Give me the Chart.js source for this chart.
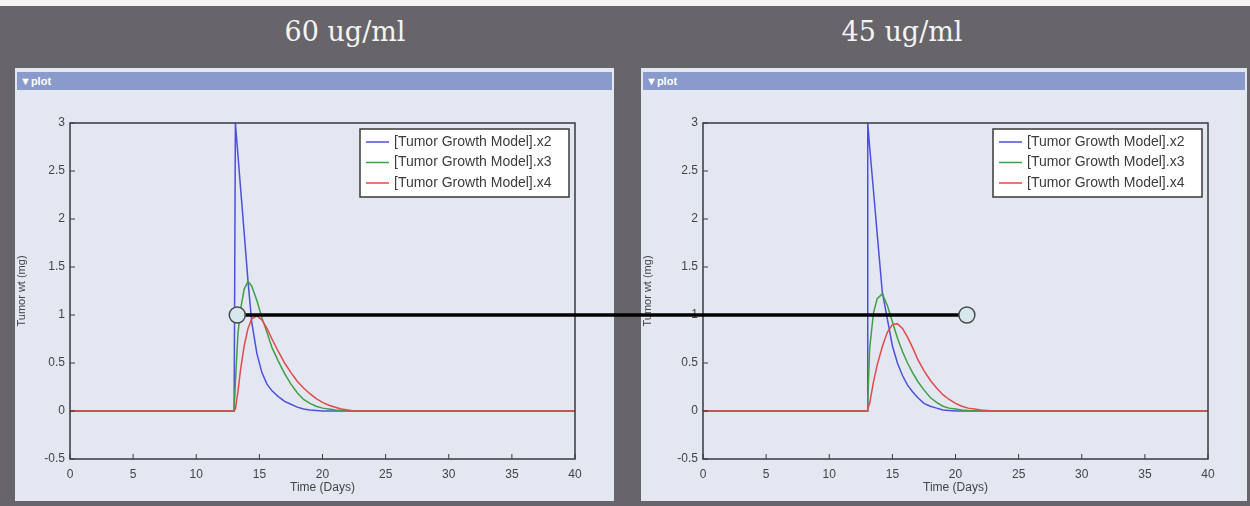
<!DOCTYPE html>
<html>
<head>
<meta charset="utf-8">
<script src="https://cdn.jsdelivr.net/npm/chart.js@4.4.0/dist/chart.umd.min.js"></script>
<style>
  html, body { margin: 0; padding: 0; }
  body { width: 1250px; height: 506px; background: #67646a; position: relative; overflow: hidden; font-family: "Liberation Sans", Arial, sans-serif; }
  .strip { position: absolute; left: 0; top: 0; width: 1250px; height: 6px; background: #f3f3f3; }
  .title { position: absolute; top: 16px; width: 400px; text-align: center; font-family: "DejaVu Serif", serif; font-size: 27px; color: #f4f4f4; }
  .panel { position: absolute; top: 68px; height: 433px; background: #e3e7f2; }
  .bar { position: absolute; top: 4px; left: 2px; right: 2px; height: 18px; background: #8a9acb; color: #fff; font-weight: bold; font-size: 11px; line-height: 18px; padding-left: 3px; }
  .box { position: absolute; left: 0; top: 27px; }
  #link { position: absolute; left: 0; top: 0; pointer-events: none; }
</style>
</head>
<body>
<div class="strip"></div>
<div class="title" style="left:145px">60 ug/ml</div>
<div class="title" style="left:702px">45 ug/ml</div>

<div class="panel" style="left:15px; width:599px">
  <div class="bar">&#9660;plot</div>
  <div class="box" style="width:599px; height:405px"><canvas id="left"></canvas></div>
</div>
<div class="panel" style="left:641px; width:606px">
  <div class="bar">&#9660;plot</div>
  <div class="box" style="width:606px; height:405px"><canvas id="right"></canvas></div>
</div>
<canvas id="link" width="1250" height="506"></canvas>

<script>
// DATA
const seriesNames = ['[Tumor Growth Model].x2', '[Tumor Growth Model].x3', '[Tumor Growth Model].x4'];
const seriesColors = ['#4f4fdc', '#3f9f45', '#e5484a'];

// 60 ug/ml
const timesLeft = [0, 13.0, 13.1, 13.3, 13.5, 13.8, 14.1, 14.4, 14.8, 15.2, 15.6, 16.0, 16.5, 17.0, 17.5, 18.0, 18.5, 19.0, 19.5, 20.0, 20.5, 21.0, 21.5, 22.0, 22.5, 40];
const x2Left = [0, 0, 3.0, 2.67, 2.34, 1.85, 1.35, 0.92, 0.6, 0.4, 0.28, 0.21, 0.15, 0.1, 0.07, 0.04, 0.02, 0.01, 0.005, 0, 0, 0, 0, 0, 0, 0];
const x3Left = [0, 0, 0.3, 0.8, 1.05, 1.27, 1.35, 1.3, 1.15, 0.97, 0.82, 0.66, 0.52, 0.39, 0.28, 0.19, 0.12, 0.08, 0.05, 0.03, 0.02, 0.01, 0.005, 0, 0, 0];
const x4Left = [0, 0, 0.02, 0.2, 0.42, 0.68, 0.86, 0.96, 0.99, 0.95, 0.86, 0.75, 0.62, 0.5, 0.4, 0.31, 0.24, 0.18, 0.13, 0.09, 0.06, 0.04, 0.02, 0.01, 0, 0];

// 45 ug/ml
const timesRight = [0, 13.0, 13.05, 13.2, 13.5, 13.8, 14.2, 14.6, 15.0, 15.4, 15.8, 16.2, 16.6, 17.0, 17.5, 18.0, 18.5, 19.0, 19.5, 20.0, 20.5, 21.0, 21.5, 22.0, 22.5, 23.0, 40];
const x2Right = [0, 0, 3.0, 2.75, 2.3, 1.84, 1.24, 0.96, 0.68, 0.5, 0.37, 0.27, 0.2, 0.14, 0.08, 0.05, 0.03, 0.01, 0.005, 0, 0, 0, 0, 0, 0, 0, 0];
const x3Right = [0, 0, 0.1, 0.65, 1.02, 1.17, 1.22, 1.1, 0.93, 0.76, 0.62, 0.5, 0.4, 0.31, 0.22, 0.14, 0.09, 0.05, 0.03, 0.02, 0.01, 0.005, 0, 0, 0, 0, 0];
const x4Right = [0, 0, 0, 0.08, 0.3, 0.48, 0.67, 0.82, 0.9, 0.91, 0.86, 0.77, 0.66, 0.54, 0.42, 0.32, 0.24, 0.17, 0.12, 0.08, 0.05, 0.03, 0.02, 0.01, 0.005, 0, 0];

// axes
const xMin = 0, xMax = 40, xStep = 5;
const yMin = -0.5, yMax = 3, yStep = 0.5;

// connector between the two plots (day on left plot, day on right plot, level)
const linkFromDay = 13.25;
const linkToDay = 20.9;
const linkLevel = 1;

function pts(t, v) {
    return t.map((x, i) => ({ x: x, y: v[i] }));
}

// box around the plot area + inward tick marks
const framePlugin = {
    id: 'frame',
    afterDraw(chart) {
        const ctx = chart.ctx, a = chart.chartArea;
        ctx.save();
        ctx.strokeStyle = '#3a3a3a';
        ctx.lineWidth = 1.5;
        ctx.strokeRect(a.left, a.top, a.right - a.left, a.bottom - a.top);
        ctx.lineWidth = 1;
        chart.scales.x.ticks.forEach(t => {
            const px = chart.scales.x.getPixelForValue(t.value);
            ctx.beginPath(); ctx.moveTo(px, a.bottom); ctx.lineTo(px, a.bottom - 5); ctx.stroke();
        });
        chart.scales.y.ticks.forEach(t => {
            const py = chart.scales.y.getPixelForValue(t.value);
            ctx.beginPath(); ctx.moveTo(a.left, py); ctx.lineTo(a.left + 5, py); ctx.stroke();
        });
        ctx.restore();
    }
};

// legend box in the top-right corner of the plot area
const legendBoxPlugin = {
    id: 'legendBox',
    afterDraw(chart) {
        const ctx = chart.ctx, a = chart.chartArea;
        const w = 209, h = 68;
        const x = a.right - 6 - w, y = a.top + 6;
        ctx.save();
        ctx.fillStyle = '#fff';
        ctx.fillRect(x, y, w, h);
        ctx.strokeStyle = '#3a3a3a';
        ctx.lineWidth = 1.5;
        ctx.strokeRect(x, y, w, h);
        ctx.font = '14px "Liberation Sans", Arial, sans-serif';
        ctx.textBaseline = 'middle';
        chart.data.datasets.forEach((ds, i) => {
            const ry = y + 13 + i * 20.5;
            ctx.strokeStyle = ds.borderColor;
            ctx.lineWidth = 1.5;
            ctx.beginPath(); ctx.moveTo(x + 6, ry); ctx.lineTo(x + 29, ry); ctx.stroke();
            ctx.fillStyle = '#3c3c3c';
            ctx.fillText(ds.label, x + 34, ry);
        });
        ctx.restore();
    }
};

function makeChart(id, times, s2, s3, s4, yWidth, rightPad) {
    const series = [s2, s3, s4];
    return new Chart(document.getElementById(id), {
        type: 'line',
        data: {
            datasets: series.map((s, i) => ({
                label: seriesNames[i],
                data: pts(times, s),
                borderColor: seriesColors[i],
                backgroundColor: seriesColors[i],
                borderWidth: 1.5,
                pointRadius: 0,
                tension: 0,
                fill: false,
                order: 3 - i // red on top
            }))
        },
        options: {
            responsive: true,
            maintainAspectRatio: false,
            animation: false,
            layout: { padding: { top: 28, right: rightPad, left: 0, bottom: 0 } },
            scales: {
                x: {
                    type: 'linear',
                    min: xMin, max: xMax,
                    grid: { display: false, drawTicks: false },
                    border: { display: false },
                    ticks: { stepSize: xStep, padding: 8, color: '#444', font: { size: 12, family: '"Liberation Sans", Arial' }, maxRotation: 0 },
                    title: { display: true, text: 'Time (Days)', color: '#444', font: { size: 12, family: '"Liberation Sans", Arial' }, padding: { top: 0, bottom: 5 } },
                    afterFit: s => { s.height = 41; }
                },
                y: {
                    min: yMin, max: yMax,
                    grid: { display: false, drawTicks: false },
                    border: { display: false },
                    ticks: { stepSize: yStep, padding: 5, color: '#444', font: { size: 12, family: '"Liberation Sans", Arial' }, callback: v => String(v) },
                    title: { display: true, text: 'Tumor wt (mg)', color: '#444', font: { size: 11, family: '"Liberation Sans", Arial' }, padding: { top: 0, bottom: 0 } },
                    afterFit: s => { s.width = yWidth; }
                }
            },
            plugins: {
                legend: { display: false },
                tooltip: { enabled: false }
            }
        },
        plugins: [framePlugin, legendBoxPlugin]
    });
}

const leftChart = makeChart('left', timesLeft, x2Left, x3Left, x4Left, 55, 39);
const rightChart = makeChart('right', timesRight, x2Right, x3Right, x4Right, 62, 39);

// connector line with the two circle handles, placed through both charts' scales
function drawLink() {
    const c = document.getElementById('link');
    const ctx = c.getContext('2d');
    const lr = leftChart.canvas.getBoundingClientRect();
    const rr = rightChart.canvas.getBoundingClientRect();
    const x1 = lr.left + leftChart.scales.x.getPixelForValue(linkFromDay);
    const y1 = lr.top + leftChart.scales.y.getPixelForValue(linkLevel);
    const x2 = rr.left + rightChart.scales.x.getPixelForValue(linkToDay);
    const y2 = rr.top + rightChart.scales.y.getPixelForValue(linkLevel);
    ctx.clearRect(0, 0, c.width, c.height);
    ctx.strokeStyle = '#000';
    ctx.lineWidth = 3.5;
    ctx.beginPath(); ctx.moveTo(x1, y1); ctx.lineTo(x2, y2); ctx.stroke();
    [[x1, y1], [x2, y2]].forEach(p => {
        ctx.beginPath();
        ctx.arc(p[0], p[1], 8, 0, Math.PI * 2);
        ctx.fillStyle = '#d6e7ef';
        ctx.fill();
        ctx.strokeStyle = '#4a4a4a';
        ctx.lineWidth = 1.5;
        ctx.stroke();
    });
}
drawLink();
</script>
</body>
</html>
